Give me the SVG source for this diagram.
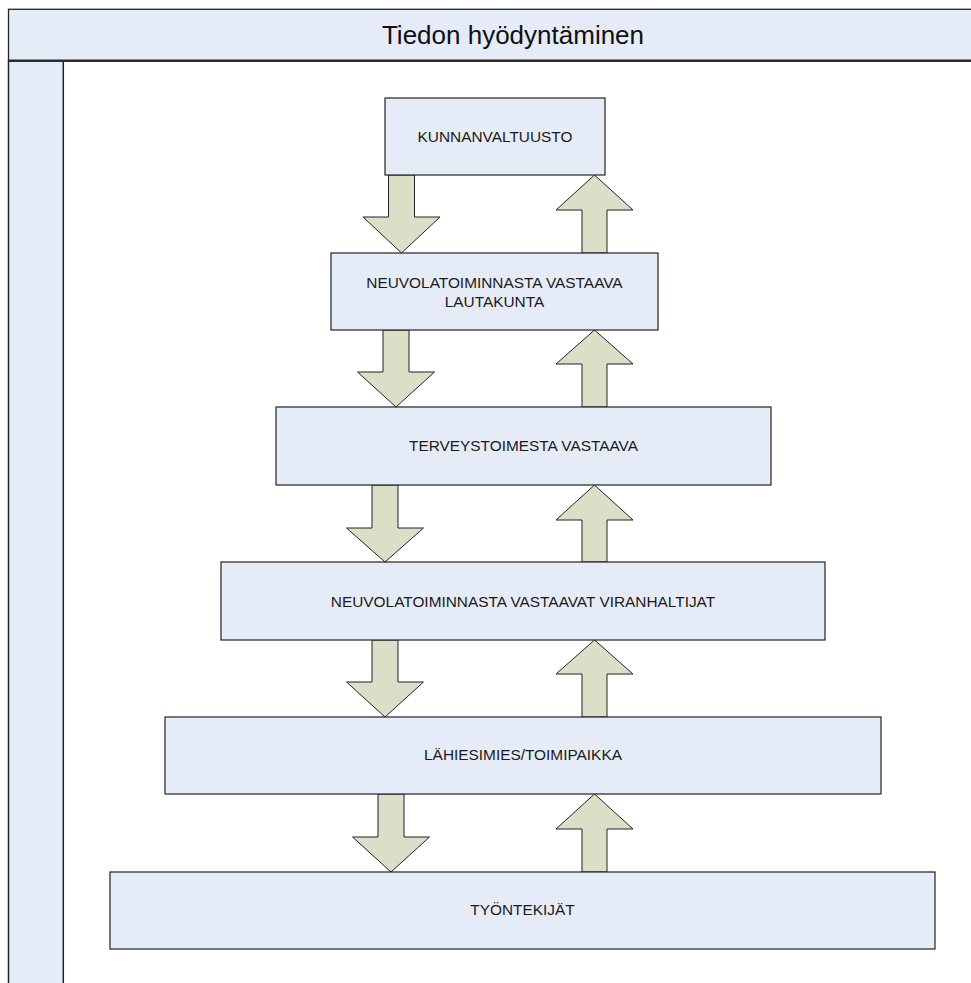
<svg xmlns="http://www.w3.org/2000/svg" width="971" height="983" viewBox="0 0 971 983">
<style>
.box{fill:#E6ECF7;stroke:#222;stroke-width:1.2}
.arr{fill:#DCDFC8;stroke:#222;stroke-width:1;stroke-linejoin:miter}
.lbl{font-family:"Liberation Sans",Arial,sans-serif;font-size:15.4px;fill:#1a1a1a;text-anchor:middle}
.title{font-family:"Liberation Sans",Arial,sans-serif;font-size:26px;fill:#111;text-anchor:middle}
</style>
<rect width="971" height="983" fill="#fff"/>
<g id="frame">
<rect x="8.5" y="60.7" width="54.8" height="940" fill="#E6ECF7" stroke="#222" stroke-width="1.5"/>
<rect x="8.5" y="9.3" width="980" height="51.4" fill="#E6ECF7" stroke="#222" stroke-width="1.3"/>
<line x1="8.5" y1="60.7" x2="980" y2="60.7" stroke="#2a2a2a" stroke-width="2.5"/>
<text class="title" x="513" y="44">Tiedon hyödyntäminen</text>
</g>
<g id="connectors">
<polygon class="arr" points="388.5,175 414.5,175 414.5,217 440,217 401.5,253 363,217 388.5,217"/>
<polygon class="arr" points="582,253 607,253 607,210 633,210 594.5,175 556,210 582,210"/>
<polygon class="arr" points="383,330 409,330 409,372 434.5,372 396,407 357.5,372 383,372"/>
<polygon class="arr" points="582,407 607,407 607,364 633,364 594.5,330 556,364 582,364"/>
<polygon class="arr" points="372,485 398,485 398,528 423.5,528 385,562 346.5,528 372,528"/>
<polygon class="arr" points="582,562 607,562 607,520 633,520 594.5,485 556,520 582,520"/>
<polygon class="arr" points="372,640 398,640 398,682 423.5,682 385,717 346.5,682 372,682"/>
<polygon class="arr" points="582,717 607,717 607,674 633,674 594.5,640 556,674 582,674"/>
<polygon class="arr" points="378,794 404,794 404,837 429.5,837 391,872 352.5,837 378,837"/>
<polygon class="arr" points="582,872 607,872 607,829 633,829 594.5,794 556,829 582,829"/>
</g>
<g id="n1"><rect class="box" x="385" y="98" width="220" height="77"/><text class="lbl" x="495" y="142">KUNNANVALTUUSTO</text></g>
<g id="n2"><rect class="box" x="331" y="253" width="327" height="77"/><text class="lbl" x="494.5" y="288">NEUVOLATOIMINNASTA VASTAAVA</text><text class="lbl" x="494.5" y="307">LAUTAKUNTA</text></g>
<g id="n3"><rect class="box" x="276" y="407" width="495" height="78"/><text class="lbl" x="523.5" y="451">TERVEYSTOIMESTA VASTAAVA</text></g>
<g id="n4"><rect class="box" x="221" y="562" width="604" height="78"/><text class="lbl" x="523" y="607">NEUVOLATOIMINNASTA VASTAAVAT VIRANHALTIJAT</text></g>
<g id="n5"><rect class="box" x="165" y="717" width="716" height="77"/><text class="lbl" x="523" y="760">LÄHIESIMIES/TOIMIPAIKKA</text></g>
<g id="n6"><rect class="box" x="110" y="872" width="825" height="77"/><text class="lbl" x="522.5" y="915">TYÖNTEKIJÄT</text></g>
</svg>
